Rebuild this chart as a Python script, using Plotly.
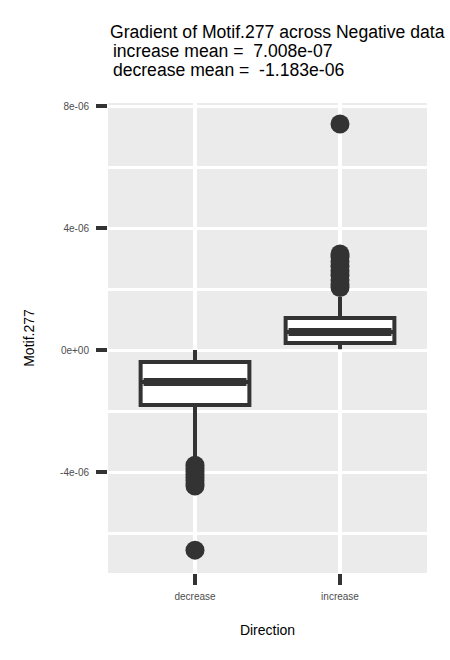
import plotly.graph_objects as go

categories = ["decrease", "increase"]
cat_pos = [1, 2]
q1 = [-1.80e-6, 0.23e-6]
median = [-1.05e-6, 0.59e-6]
q3 = [-0.39e-6, 1.05e-6]
lower_whisker = [-3.6e-6, 0.03e-6]
upper_whisker = [0.0e-6, 1.74e-6]
outliers_decrease = [-3.78e-6, -3.88e-6, -3.98e-6, -4.08e-6, -4.18e-6, -4.28e-6, -4.38e-6, -4.46e-6, -6.56e-6]
outliers_increase = [2.05e-6, 2.15e-6, 2.3e-6, 2.45e-6, 2.6e-6, 2.75e-6, 2.9e-6, 3.05e-6, 3.15e-6, 7.41e-6]
ytick_vals = [-4e-6, 0, 4e-6, 8e-6]
ytick_text = ["-4e-06", "0e+00", "4e-06", "8e-06"]
yminor_vals = [-6e-6, -2e-6, 2e-6, 6e-6]
title_lines = ["Gradient of Motif.277 across Negative data",
               "\u00a0increase mean =\u00a0\u00a07.008e-07",
               "\u00a0decrease mean =\u00a0\u00a0-1.183e-06"]

dark = "#333333"
box_width = 0.75
W, H = 450, 660
ML, MR, MT, MB = 108, 23, 103, 87
title_size = 17.6

fig = go.Figure()
fig.add_trace(go.Box(
    x=cat_pos, q1=q1, median=median, q3=q3,
    lowerfence=lower_whisker, upperfence=upper_whisker,
    boxpoints=False, width=box_width, whiskerwidth=0,
    fillcolor="white", line=dict(color=dark, width=4), showlegend=False,
))
for xp, m in zip(cat_pos, median):
    fig.add_trace(go.Scatter(
        x=[xp - box_width / 2 + 0.02, xp + box_width / 2 - 0.02], y=[m, m],
        mode="lines", line=dict(color=dark, width=8), showlegend=False, hoverinfo="skip",
    ))
fig.add_trace(go.Scatter(
    x=[cat_pos[0]] * len(outliers_decrease) + [cat_pos[1]] * len(outliers_increase),
    y=outliers_decrease + outliers_increase,
    mode="markers", marker=dict(color=dark, size=19, line=dict(width=0)), showlegend=False,
))

# title: first line as the layout title, others as annotations (tight line spacing)
plot_h = H - MT - MB
line_centers = [32, 51, 70]
title_x_px = 110
fig.update_layout(
    width=W, height=H,
    margin=dict(l=ML, r=MR, t=MT, b=MB),
    paper_bgcolor="white", plot_bgcolor="#EBEBEB",
    font=dict(family="Liberation Sans, Arial, sans-serif", color="black"),
    title=dict(text=title_lines[0], x=title_x_px / W, xanchor="left",
               y=1 - line_centers[0] / H, yanchor="middle",
               font=dict(size=title_size, color="black")),
)
for txt, c in zip(title_lines[1:], line_centers[1:]):
    fig.add_annotation(
        text=txt, xref="paper", yref="paper",
        x=(title_x_px - ML) / (W - ML - MR), y=(H - MB - c) / plot_h,
        xanchor="left", yanchor="middle", showarrow=False,
        font=dict(size=title_size, color="black"), xshift=-4,
    )

fig.update_xaxes(
    range=[0.4, 2.6], tickvals=cat_pos, ticktext=categories,
    ticks="outside", ticklen=11, tickwidth=4, tickcolor=dark,
    tickfont=dict(size=10, color="#4D4D4D"), ticklabelstandoff=3,
    showgrid=True, gridcolor="white", gridwidth=4, zeroline=False, showline=False,
    title=dict(text="Direction", font=dict(size=14, color="black"), standoff=24),
)
fig.update_yaxes(
    range=[-7.31e-6, 8.1e-6], tickvals=ytick_vals, ticktext=ytick_text,
    ticks="outside", ticklen=11, tickwidth=4, tickcolor=dark,
    tickfont=dict(size=10, color="#4D4D4D"), ticklabelstandoff=5,
    showgrid=True, gridcolor="white", gridwidth=3, zeroline=False, showline=False,
    minor=dict(tickvals=yminor_vals, showgrid=True, gridcolor="white", gridwidth=3, ticks=""),
    title=dict(text="Motif.277", font=dict(size=14, color="black"), standoff=22),
)

fig.write_html("out.html")
